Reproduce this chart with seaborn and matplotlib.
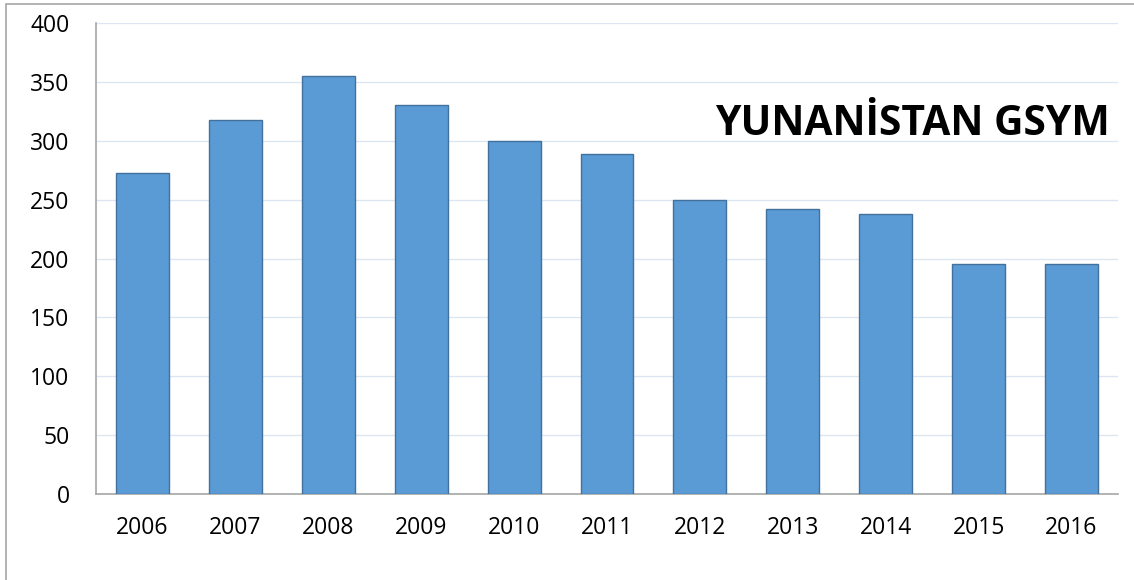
import matplotlib
matplotlib.use("Agg")
import matplotlib.pyplot as plt
import seaborn as sns
import pandas as pd
from matplotlib.patches import Rectangle

years = ["2006", "2007", "2008", "2009", "2010", "2011",
         "2012", "2013", "2014", "2015", "2016"]
gdp = [273, 318, 355, 330, 300, 289, 250, 242, 238, 195, 195]
title = "YUNANİSTAN GSYM"

sns.set_style("white")
plt.rcParams["font.family"] = ["Open Sans", "DejaVu Sans"]

df = pd.DataFrame({"year": years, "gdp": gdp})

fig = plt.figure(figsize=(11.34, 5.80), dpi=100)
ax = fig.add_axes([96 / 1134, 1 - 494 / 580, 1022 / 1134, 471 / 580])

sns.barplot(data=df, x="year", y="gdp", color="#5B9BD5", saturation=1,
            width=0.57, edgecolor="#41719C", linewidth=1, ax=ax, zorder=3)

ax.set_ylim(0, 400)
ax.set_yticks(range(0, 401, 50))
ax.yaxis.grid(True, color="#DCE6F2", linewidth=1, zorder=0)
ax.set_axisbelow(True)
ax.set_xlabel("")
ax.set_ylabel("")
ax.tick_params(axis="both", labelsize=16.5, length=0, colors="black")
ax.tick_params(axis="x", pad=16)
ax.tick_params(axis="y", pad=19)
for s in ["top", "right"]:
    ax.spines[s].set_visible(False)
for s in ["left", "bottom"]:
    ax.spines[s].set_color("#A6A6A6")
    ax.spines[s].set_linewidth(1.2)

ax.text(0.992, 0.785, title, transform=ax.transAxes, ha="right", va="center",
        fontsize=29.3, fontweight="bold", color="black")

# outer chart border
fig.patches.append(Rectangle((6 / 1134, -0.1), 1.2, 1 - 4 / 580 + 0.1,
                             transform=fig.transFigure, fill=False,
                             edgecolor="#A6A6A6", linewidth=1.2))

fig.savefig("out.png", dpi=100)
